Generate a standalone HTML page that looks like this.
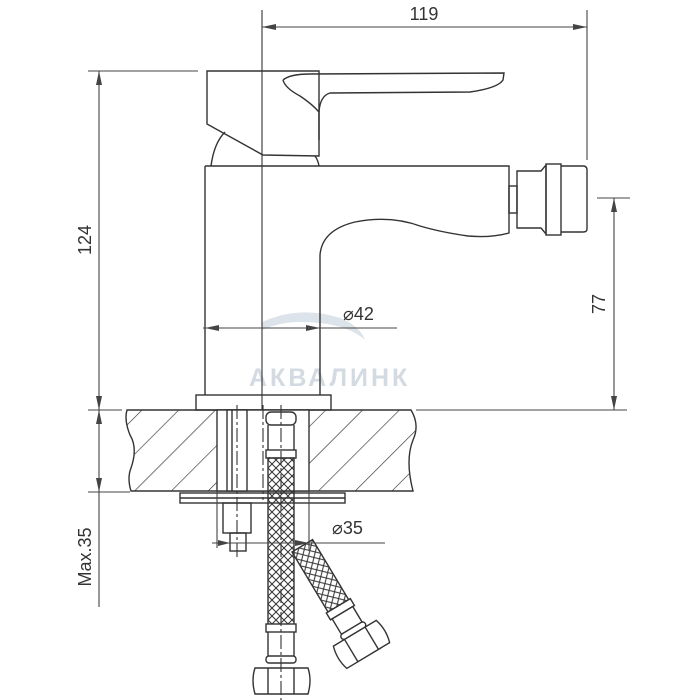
<!DOCTYPE html>
<html><head><meta charset="utf-8"><style>
html,body{margin:0;padding:0;background:#fff;width:700px;height:700px;overflow:hidden}
svg{display:block}
text{font-family:"Liberation Sans",sans-serif;fill:#333}
</style></head><body>
<svg width="700" height="700" viewBox="0 0 700 700" xmlns="http://www.w3.org/2000/svg">
<defs>
<pattern id="hatch" patternUnits="userSpaceOnUse" width="26" height="26" patternTransform="rotate(45)">
<line x1="0" y1="0" x2="0" y2="26" stroke="#333" stroke-width="1.3"/>
</pattern>
<pattern id="braid" patternUnits="userSpaceOnUse" width="8" height="8">
<path d="M0 0L8 8M8 0L0 8" stroke="#333" stroke-width="1"/>
</pattern>
</defs>

<!-- watermark -->
<path d="M262 322 Q300 305 340 318 Q360 326 365 340 Q345 322 300 322 Q280 322 262 330z" fill="#dde3ea"/>
<text x="249" y="386" font-size="25" font-weight="bold" letter-spacing="3" style="fill:#d3dae2">АКВАЛИНК</text>

<g fill="none" stroke="#333" stroke-width="1.4">
<!-- handle block -->
<path d="M207 71 L319 71 L319 156 L263 155 L207 124 Z" fill="#fff"/>
<!-- lever -->
<path d="M283 80 Q290 74 310 74 L504 73 L503 80 Q498 88 470 92 L330 93 Q320 96 319 112 L319 140" />
<path d="M283 80 Q285 88 300 96 Q312 104 319 112"/>
<!-- arc under handle -->
<path d="M211 166 Q214 143 225 132"/>
<path d="M315 156 Q318 160 319 166"/>
<!-- body -->
<path d="M205 166 L509 166 L509 233 Q490 238 468 236 Q440 232 420 226 Q390 215 355 222 Q322 230 320 255 L320 395"/>
<line x1="205" y1="166" x2="205" y2="395"/>
<!-- aerator -->
<rect x="509" y="186" width="8" height="27"/>
<path d="M517 171 L541 171 L546 165 L546 234 L541 228 L517 228 Z"/>
<rect x="546" y="164" width="15" height="71"/>
<path d="M561 166 L583 166 Q587 166 587 170 L587 229 Q587 232 583 232 L561 232"/>
<!-- base plate -->
<rect x="196" y="395" width="135" height="15"/>
<!-- counter -->
<path d="M127 410 L411 410 Q420 425 413 440 Q405 460 413 491 L131 491 Q127 478 131 468 Q138 448 130 435 Q124 420 127 410Z" fill="url(#hatch)"/>
<rect x="217" y="410" width="92" height="81" fill="#fff"/>
<rect x="180" y="493" width="165" height="10" fill="#fff"/>
<line x1="180" y1="498" x2="345" y2="498"/>
<!-- stud -->
<rect x="227" y="410" width="20" height="81" fill="#fff"/>
<line x1="232" y1="410" x2="232" y2="491"/>
<rect x="223" y="503" width="28" height="30"/>
<rect x="230" y="533" width="16" height="18"/>
<!-- hose vertical -->
<rect x="266" y="412" width="30" height="13" rx="5" fill="#fff"/>
<line x1="268" y1="425" x2="268" y2="450"/><line x1="294" y1="425" x2="294" y2="450"/>
<rect x="266" y="450" width="30" height="8" fill="#fff"/>
<rect x="268" y="458" width="26" height="167" fill="url(#braid)"/>
<rect x="266" y="624" width="30" height="8" fill="#fff"/>
<line x1="268" y1="632" x2="268" y2="656"/><line x1="294" y1="632" x2="294" y2="656"/>
<rect x="266" y="656" width="30" height="7" rx="3" fill="#fff"/>
<path d="M255 668 L308 668 Q312 680 308 694 L255 694 Q251 680 255 668Z" fill="#fff"/>
<line x1="268" y1="668" x2="268" y2="694"/><line x1="294" y1="668" x2="294" y2="694"/>
<!-- diagonal hose -->
<g transform="translate(292,552) rotate(-31)">
<rect x="0" y="0" width="24" height="70" fill="url(#braid)"/>
<rect x="-2" y="70" width="28" height="8" fill="#fff"/>
<rect x="0" y="78" width="24" height="18" fill="#fff"/>
<rect x="-2" y="96" width="28" height="6" rx="3" fill="#fff"/>
<path d="M-13 102 L37 102 Q41 115 37 128 L-13 128 Q-17 115 -13 102Z" fill="#fff"/>
<line x1="0" y1="102" x2="0" y2="128"/><line x1="24" y1="102" x2="24" y2="128"/>
</g>
</g>

<!-- center lines -->
<g stroke="#333" stroke-width="1.1" fill="none">
<line x1="262" y1="10" x2="262" y2="410"/>
<line x1="237" y1="405" x2="237" y2="560" stroke-dasharray="14 3 3 3"/>
<line x1="263" y1="405" x2="263" y2="500" stroke-dasharray="14 3 3 3"/>
<line x1="281" y1="405" x2="281" y2="700" stroke-dasharray="14 3 3 3"/>
</g>

<!-- dimensions -->
<g stroke="#444" stroke-width="1.1" fill="none">
<line x1="587" y1="10" x2="587" y2="160"/>
<line x1="262" y1="27" x2="587" y2="27"/>
<line x1="88" y1="71" x2="198" y2="71"/>
<line x1="99" y1="71" x2="99" y2="410"/>
<line x1="88" y1="410" x2="122" y2="410"/>
<line x1="88" y1="492" x2="130" y2="492"/>
<line x1="99" y1="410" x2="99" y2="607"/>
<line x1="416" y1="410" x2="627" y2="410"/>
<line x1="597" y1="198" x2="630" y2="198"/>
<line x1="614" y1="198" x2="614" y2="410"/>
<line x1="203" y1="328" x2="397" y2="328"/>
<line x1="212" y1="543" x2="385" y2="543"/>
<line x1="217" y1="491" x2="217" y2="548"/>
<line x1="309" y1="491" x2="309" y2="550"/>
</g>
<g fill="#444">
<path d="M262 27l14-3v6z"/><path d="M587 27l-14-3v6z"/>
<path d="M99 71l-3 14h6z"/><path d="M99 410l-3-14h6z"/>
<path d="M99 410l-3 14h6z"/><path d="M99 492l-3-14h6z"/>
<path d="M614 198l-3 14h6z"/><path d="M614 410l-3-14h6z"/>
<path d="M205 328l14-3v6z"/><path d="M320 328l-14-3v6z"/>
<path d="M230 543l-12-3v6z"/><path d="M309 543l-14-3v6z"/>
</g>

<text x="424" y="20" font-size="18" text-anchor="middle">119</text>
<text x="0" y="0" font-size="18" text-anchor="middle" transform="translate(91,240) rotate(-90)">124</text>
<text x="0" y="0" font-size="18" text-anchor="middle" transform="translate(605,304) rotate(-90)">77</text>
<text x="0" y="0" font-size="18" text-anchor="middle" transform="translate(91,557) rotate(-90)">Max.35</text>
<text x="343" y="320" font-size="18">⌀42</text>
<text x="332" y="534" font-size="18">⌀35</text>
</svg>
</body></html>
